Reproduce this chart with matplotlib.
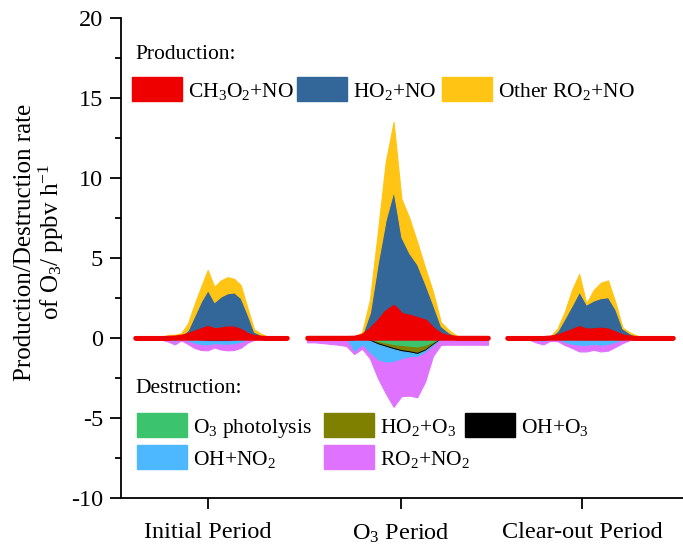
import numpy as np
import matplotlib.pyplot as plt
from matplotlib.patches import Rectangle
from matplotlib.ticker import MultipleLocator

plt.rcParams['font.family'] = 'Liberation Serif'
plt.rcParams['mathtext.fontset'] = 'custom'
plt.rcParams['mathtext.rm'] = 'Liberation Serif'
plt.rcParams['mathtext.it'] = 'Liberation Serif:italic'
plt.rcParams['mathtext.bf'] = 'Liberation Serif:bold'
plt.rcParams['axes.unicode_minus'] = False

periods = ['Initial Period', 'O$_3$ Period', 'Clear-out Period']

prod_labels = ['CH$_3$O$_2$+NO', 'HO$_2$+NO', 'Other RO$_2$+NO']
dest_labels = ['O$_3$ photolysis', 'HO$_2$+O$_3$', 'OH+O$_3$', 'OH+NO$_2$', 'RO$_2$+NO$_2$']
prod_colors = ['#ee0000', '#336699', '#ffc414']
dest_colors = ['#3cc36e', '#808000', '#000000', '#4db8ff', '#df73ff']

# hourly rates (ppbv/h), hour 0..23
# Initial period
init_ch3o2 = [.02, .02, .02, .02, .02, .03, .05, .10, .20, .35, .50, .65, .50, .55, .62, .60, .45, .20, .08, .04, .02, .02, .02, .02]
init_ho2 = [0, 0, 0, 0, 0, .07, .05, .05, .30, 1.05, 1.80, 2.35, 1.75, 2.05, 2.18, 2.25, 2.05, 1.30, .32, .16, .04, 0, 0, 0]
init_ro2 = [.01, .01, .01, .01, .01, .10, .10, .15, .40, .70, .90, 1.25, .95, 1.00, 1.00, .85, .80, .40, .15, .08, .04, .01, .01, .01]
init_o3phot = [0, 0, 0, 0, 0, 0, 0, .02, .05, .08, .10, .12, .12, .12, .12, .10, .08, .04, .01, 0, 0, 0, 0, 0]
init_ho2o3 = [0, 0, 0, 0, 0, 0, 0, 0, .01, .02, .03, .03, .03, .03, .03, .03, .02, .01, 0, 0, 0, 0, 0, 0]
init_oho3 = [0, 0, 0, 0, 0, 0, 0, 0, .01, .02, .02, .02, .02, .02, .02, .02, .01, 0, 0, 0, 0, 0, 0, 0]
init_ohno2 = [.01, .01, .01, .01, .03, .10, .25, .05, .15, .25, .30, .30, .22, .25, .25, .25, .20, .10, .03, .01, .01, .01, .01, .01]
init_ro2no2 = [.08, .08, .08, .08, .08, .12, .15, .08, .15, .25, .30, .30, .20, .30, .35, .35, .30, .15, .08, .08, .08, .08, .08, .08]

# O3 period
o3p_ch3o2 = [.03, .03, .03, .03, .03, .03, .04, .15, .50, 1.00, 1.60, 1.95, 1.45, 1.35, 1.20, 1.05, .55, .20, .08, .03, .03, .03, .03, .03]
o3p_ho2 = [0, 0, 0, 0, 0, 0, .01, .05, 1.10, 3.70, 5.80, 7.25, 4.85, 3.95, 3.40, 2.35, 1.55, .55, .27, .07, .01, 0, 0, 0]
o3p_ro2 = [.01, .01, .01, .01, .01, .01, .03, .15, .80, 1.90, 3.60, 4.30, 2.40, 2.20, 1.40, 1.00, .80, .25, .15, .05, .02, .01, .01, .01]
o3p_o3phot = [0, 0, 0, 0, 0, 0, 0, .02, .10, .25, .35, .45, .50, .55, .60, .50, .30, .05, 0, 0, 0, 0, 0, 0]
o3p_ho2o3 = [0, 0, 0, 0, 0, 0, 0, 0, .05, .10, .15, .20, .28, .30, .35, .25, .10, .02, 0, 0, 0, 0, 0, 0]
o3p_oho3 = [0, 0, 0, 0, 0, 0, 0, 0, .03, .05, .05, .05, .05, .05, .05, .04, .03, .01, 0, 0, 0, 0, 0, 0]
o3p_ohno2 = [.02, .02, .02, .02, .02, .10, .90, .45, .80, 1.00, 1.00, .80, .50, .30, .20, .15, .10, .05, .02, .02, .02, .02, .02, .02]
o3p_ro2no2 = [.25, .25, .30, .35, .40, .40, .10, .20, .30, 1.10, 1.90, 2.80, 2.30, 2.40, 2.50, 1.80, .60, .30, .40, .40, .40, .40, .40, .40]

# Clear-out period
clr_ch3o2 = [.02, .02, .02, .02, .02, .02, .05, .12, .28, .45, .63, .48, .50, .54, .48, .30, .12, .05, .02, .02, .02, .02, .02, .02]
clr_ho2 = [0, 0, 0, 0, 0, 0, .03, .33, .95, 1.60, 2.27, 1.62, 1.85, 1.96, 2.07, 1.50, .48, .25, .08, .01, 0, 0, 0, 0]
clr_ro2 = [.01, .01, .01, .01, .01, .01, .02, .15, .40, .95, 1.10, .05, .65, .95, 1.05, .45, .05, .05, .05, .02, .01, .01, .01, .01]
clr_o3phot = [0, 0, 0, 0, 0, 0, 0, .02, .05, .08, .10, .10, .10, .10, .10, .08, .05, .02, 0, 0, 0, 0, 0, 0]
clr_ho2o3 = [0, 0, 0, 0, 0, 0, 0, 0, .01, .02, .02, .02, .02, .02, .02, .02, .01, 0, 0, 0, 0, 0, 0, 0]
clr_oho3 = [0, 0, 0, 0, 0, 0, 0, 0, .01, .02, .02, .02, .02, .02, .02, .01, .01, 0, 0, 0, 0, 0, 0, 0]
clr_ohno2 = [.01, .01, .01, .01, .15, .25, .10, .10, .25, .30, .35, .35, .30, .35, .30, .20, .10, .03, .01, .01, .01, .01, .01, .01]
clr_ro2no2 = [.08, .08, .08, .08, .12, .15, .08, .08, .12, .20, .35, .35, .30, .35, .35, .25, .15, .08, .06, .06, .06, .06, .06, .06]

production = [
    [init_ch3o2, init_ho2, init_ro2],
    [o3p_ch3o2, o3p_ho2, o3p_ro2],
    [clr_ch3o2, clr_ho2, clr_ro2],
]
destruction = [
    [init_o3phot, init_ho2o3, init_oho3, init_ohno2, init_ro2no2],
    [o3p_o3phot, o3p_ho2o3, o3p_oho3, o3p_ohno2, o3p_ro2no2],
    [clr_o3phot, clr_ho2o3, clr_oho3, clr_ohno2, clr_ro2no2],
]

W, H = 683, 554
fig = plt.figure(figsize=(W / 100, H / 100), dpi=100)
ax = fig.add_axes([121 / W, 56 / H, 562 / W, 480 / H])

# horizontal extent of each period's diurnal profile (axis units)
spans = [(14, 166), (186, 367), (386, 552)]
tick_pos = [87, 280, 461]

for (x0, x1), prod, dest in zip(spans, production, destruction):
    x = np.linspace(x0, x1, 24)
    neg = [-np.array(d) for d in dest]
    polys = ax.stackplot(x, *neg, colors=dest_colors)
    for p, c in zip(polys, dest_colors):
        p.set_edgecolor(c)
        p.set_linewidth(0.8 if c != '#000000' else 1.2)
    polys = ax.stackplot(x, *prod, colors=prod_colors)
    for p, c in zip(polys, prod_colors):
        p.set_edgecolor(c)
        p.set_linewidth(0.8)
        p.set_joinstyle('round')
    polys[0].set_linewidth(3.2)
    polys[0].set_zorder(3)

ax.set_xlim(0, 562)
ax.set_ylim(-10, 20)
ax.set_yticks(np.arange(-10, 21, 5))
ax.yaxis.set_minor_locator(MultipleLocator(2.5))
ax.set_xticks(tick_pos, periods)
ax.tick_params(which='major', direction='out', length=8, width=1.3, labelsize=17.5, pad=5)
ax.tick_params(axis='x', pad=9)
ax.tick_params(which='minor', direction='out', length=4, width=1.3)
ax.spines[['top', 'right']].set_visible(False)
ax.spines[['left', 'bottom']].set_linewidth(1.3)

ax.set_ylabel('Production/Destruction rate\nof O$_3$/ ppbv h$^{\\mathrm{-1}}$', fontsize=18, linespacing=1.05)
ax.yaxis.label.set_va('center')
ax.yaxis.set_label_coords(-0.144, 0.533)


def fpx(x, y):
    return x / W, 1 - y / H


# legends, drawn as boxes + text
fig.text(*fpx(135, 59), 'Production:', fontsize=15.5, va='baseline')
fig.text(*fpx(135, 393), 'Destruction:', fontsize=15.5, va='baseline')

prod_slots = [(132, 77), (297, 77), (442, 77)]
dest_slots = [(137, 413), (324, 413), (465, 413), (137, 445), (324, 445)]
for labels, cols, slots in [(prod_labels, prod_colors, prod_slots),
                            (dest_labels, dest_colors, dest_slots)]:
    for lab, c, (px, py) in zip(labels, cols, slots):
        fig.add_artist(Rectangle(fpx(px, py + 24), 50 / W, 24 / H,
                                 transform=fig.transFigure, color=c))
        fig.text(*fpx(px + 56, py + 20), lab, fontsize=15.5, va='baseline')

fig.savefig('out.png', dpi=100)
